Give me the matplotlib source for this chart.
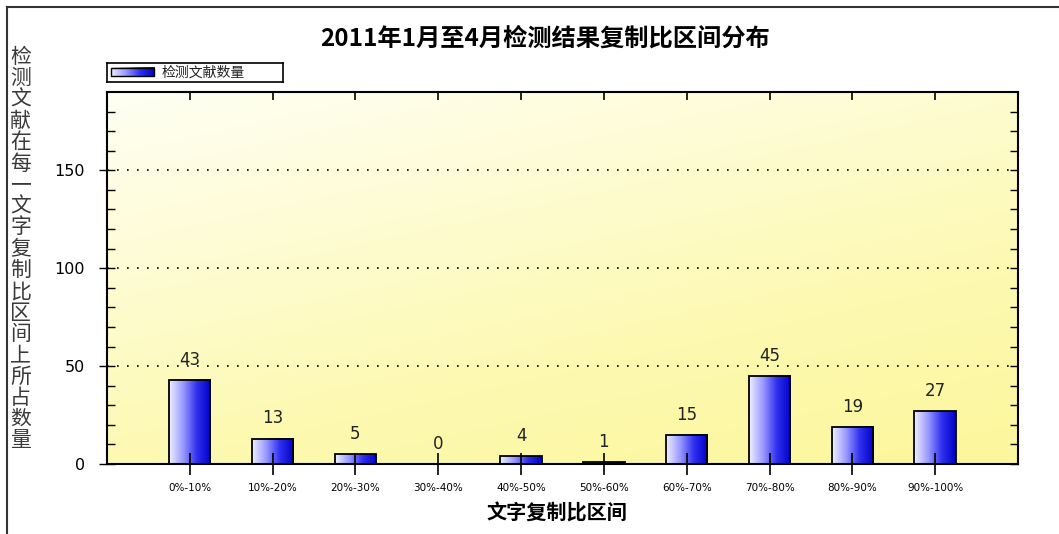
import matplotlib.pyplot as plt
import numpy as np
from matplotlib.colors import LinearSegmentedColormap
from matplotlib.lines import Line2D

plt.rcParams['font.family'] = ['Noto Sans CJK SC', 'DejaVu Sans']

## Data
categories = ['0%-10%', '10%-20%', '20%-30%', '30%-40%', '40%-50%',
              '50%-60%', '60%-70%', '70%-80%', '80%-90%', '90%-100%']
counts = [43, 13, 5, 0, 4, 1, 15, 45, 19, 27]
title = '2011年1月至4月检测结果复制比区间分布'
ylabel = '检测文献在每一文字复制比区间上所占数量'
xlabel = '文字复制比区间'
legend_label = '检测文献数量'

fig = plt.figure(figsize=(10.59, 5.34), dpi=100)
ax = fig.add_axes([0.101, 0.131, 0.8603, 0.6967])

# background gradient (cream top left -> yellow bottom right)
bgmap = LinearSegmentedColormap.from_list('bg', ['#fffff4', '#fefcd2', '#fdf9b0', '#fcf79c'])
gx, gy = np.meshgrid(np.linspace(0, 1, 200), np.linspace(0, 1, 200))
ax.imshow(0.35 * gx + 0.65 * gy, cmap=bgmap, extent=[0, 1, 0, 1], transform=ax.transAxes,
          aspect='auto', zorder=0, origin='upper')

barmap = LinearSegmentedColormap.from_list('bar', ['#eeeeff', '#9a9aff', '#3030f0', '#0000c8'])
grad = np.linspace(0, 1, 100).reshape(1, -1)
w = 0.5
x = np.arange(len(categories))
for xi, c in zip(x, counts):
    if c > 0:
        ax.imshow(grad, cmap=barmap, extent=[xi - w / 2, xi + w / 2, 0, c],
                  aspect='auto', zorder=2)
    ax.bar(xi, c, width=w, facecolor='none', edgecolor='black', lw=1.3, zorder=3)
    ax.annotate(str(c), (xi, c), xytext=(0, 8), textcoords='offset points',
                ha='center', va='bottom', fontsize=12, family='DejaVu Sans', color='#222')

ax.set_xlim(-1, 10)
ax.set_ylim(0, 190)
ax.set_xticks(x)
ax.set_xticklabels(categories, fontsize=7.5, family='DejaVu Sans')
ax.set_yticks([0, 50, 100, 150])
ax.set_yticks(np.arange(0, 190, 10), minor=True)
ax.tick_params(axis='y', labelsize=11.5, direction='inout', length=12, width=1, pad=10,
               right=True)
ax.tick_params(axis='y', which='minor', direction='in', length=6, width=1, right=True)
ax.tick_params(axis='x', direction='inout', length=16, width=1.2, pad=6, top=True)
for lab in ax.get_yticklabels():
    lab.set_family('DejaVu Sans')
# right and top ticks point inward only
for t in ax.yaxis.get_major_ticks():
    t.tick2line.set_marker(0)
    t.tick2line.set_markersize(6)
for t in ax.xaxis.get_major_ticks():
    t.tick2line.set_marker(3)
    t.tick2line.set_markersize(6)
ax.grid(axis='y', which='major', linestyle=(0, (1, 5)), color='black', lw=1.2)
for s in ax.spines.values():
    s.set_linewidth(1.5)
ax.set_axisbelow(False)

# title and labels
fig.text(0.515, 0.928, title, ha='center', va='center', fontsize=17.5, weight='bold')
fig.text(0.526, 0.04, xlabel, ha='center', va='center', fontsize=14.5, weight='bold')
for i, ch in enumerate(ylabel):
    fig.text(0.0195, 1 - (57 + i * 21.3) / 534, ch, ha='center', va='center',
             fontsize=15, weight='medium', color='#3a3a3a')

# legend box
lax = fig.add_axes([0.101, 0.846, 0.166, 0.036])
lax.set_xlim(0, 1)
lax.set_ylim(0, 1)
lax.set_xticks([])
lax.set_yticks([])
for s in lax.spines.values():
    s.set_linewidth(1.2)
lax.imshow(grad, cmap=barmap, extent=[0.025, 0.27, 0.3, 0.72], aspect='auto')
lax.add_patch(plt.Rectangle((0.025, 0.3), 0.245, 0.42, fill=False, lw=1, ec='black'))
lax.text(0.31, 0.5, legend_label, va='center', ha='left', fontsize=10, color='#222')

# outer frame lines (top and left)
fig.add_artist(Line2D([0.0066, 1.0], [0.987, 0.987], color='#333', lw=1.5))
fig.add_artist(Line2D([0.0066, 0.0066], [0.0, 0.987], color='#333', lw=1.5))

fig.savefig('out.png', dpi=100)
